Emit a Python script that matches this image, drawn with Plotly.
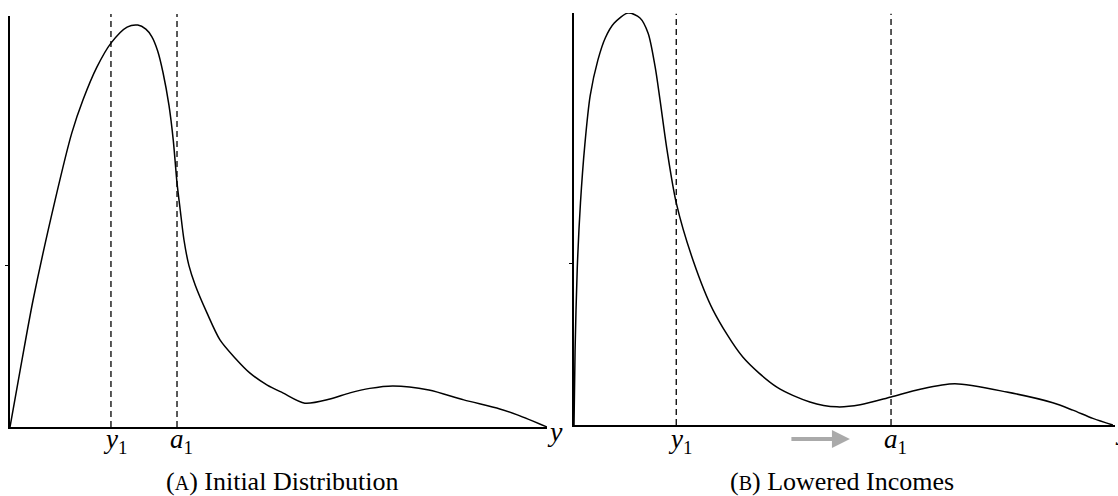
import plotly.graph_objects as go

# ---- data (arbitrary units: income 0-100, density 0-100) ----
a_x = [0, 2.0, 4.3, 8.4, 11.5, 13.6, 16.2, 18.8, 21.8, 23.8, 25.3, 26.4, 27.5, 28.5, 29.6, 30.4,
       31.1, 31.7, 32.4, 33.3, 34.5, 36.7, 39.1, 41.9, 44.7, 47.9, 50.8, 54.9, 59.6, 63.3, 67.0,
       71.3, 78.0, 84.5, 91.2, 94.6, 100]
a_y = [0, 14.6, 30.9, 55.2, 71.5, 79.6, 87.6, 93.4, 97.3, 97.8, 96.8, 95.0, 91.5, 86.2, 78.3,
       69.8, 59.4, 52.8, 45.5, 39.4, 34.5, 27.7, 21.2, 16.8, 13.1, 10.2, 8.3, 5.8, 6.8, 8.3, 9.4,
       10.0, 9.0, 6.6, 4.4, 2.9, 0]

b_x = [0, 0.2, 0.6, 1.2, 2.0, 3.0, 4.4, 5.8, 7.4, 10.0, 12.2, 13.7, 15.0, 15.9, 17.2, 18.9, 22.0,
       25.7, 31.2, 37.5, 43.6, 48.6, 52.9, 58.6, 64.0, 70.4, 80.0, 88.5, 92.2, 95.9, 99.6]
b_y = [0, 18.2, 38.0, 54.0, 68.0, 80.0, 88.5, 94.0, 97.5, 100, 98.8, 95.1, 86.9, 78.9, 66.7,
       53.9, 40.0, 27.9, 16.5, 9.2, 5.6, 4.4, 4.9, 6.8, 8.7, 10.0, 8.0, 5.4, 3.6, 1.6, 0]

a_marks = [18.8, 31.1]          # y1, a1 in panel A
b_marks = [18.9, 58.6]          # y1, a1 in panel B
mark_labels = ["<i>y</i><sub>1</sub>", "<i>a</i><sub>1</sub>"]
captions = ["(<span style='font-size:20px'>A</span>) Initial Distribution",
            "(<span style='font-size:20px'>B</span>) Lowered Incomes"]

W, H = 1118, 496
FONT = "Liberation Serif, 'Times New Roman', Times, serif"

fig = go.Figure()
fig.add_trace(go.Scatter(x=a_x, y=a_y, mode="lines", xaxis="x", yaxis="y",
                         line=dict(color="black", width=1.5, shape="spline", smoothing=0.8),
                         showlegend=False, hoverinfo="skip"))
fig.add_trace(go.Scatter(x=b_x, y=b_y, mode="lines", xaxis="x2", yaxis="y2",
                         line=dict(color="black", width=1.5, shape="spline", smoothing=0.8),
                         showlegend=False, hoverinfo="skip"))

for xv in a_marks:
    fig.add_shape(type="line", xref="x", yref="y domain", x0=xv, x1=xv, y0=0, y1=1.005,
                  line=dict(color="black", width=1.3, dash="6px,4px"))
for xv in b_marks:
    fig.add_shape(type="line", xref="x2", yref="y2 domain", x0=xv, x1=xv, y0=0, y1=0.998,
                  line=dict(color="black", width=1.3, dash="6px,4px"))

axis_common = dict(showgrid=False, zeroline=False, showline=True, linecolor="black",
                   linewidth=1.5, fixedrange=True)

fig.update_layout(
    width=W, height=H,
    margin=dict(l=0, r=0, t=0, b=0),
    paper_bgcolor="white", plot_bgcolor="white",
    font=dict(family=FONT, color="black"),
    xaxis=dict(domain=[10 / W, 547 / W], range=[0, 100], anchor="y",
               showticklabels=False, ticks="", **axis_common),
    yaxis=dict(domain=[(H - 427) / H, (H - 16) / H], range=[0, 100], anchor="x",
               tickvals=[39.2], ticktext=[""], ticks="outside", ticklen=3, tickcolor="black",
               tickwidth=1, **axis_common),
    xaxis2=dict(domain=[574 / W, 1115 / W], range=[0, 100], anchor="y2",
                showticklabels=False, ticks="", **axis_common),
    yaxis2=dict(domain=[(H - 425) / H, (H - 13) / H], range=[0, 100], anchor="x2",
                tickvals=[39.1], ticktext=[""], ticks="outside", ticklen=3, tickcolor="black",
                tickwidth=1, **axis_common),
)

# marker labels y1, a1 under the axes
for xr, marks in (("x", a_marks), ("x2", b_marks)):
    for xv, lab in zip(marks, mark_labels):
        fig.add_annotation(x=xv, y=(H - 441) / H, xref=xr, yref="paper", text=lab,
                           showarrow=False, xanchor="center", yanchor="middle", xshift=4,
                           font=dict(family=FONT, size=27, color="black"))

# axis end labels "y"
fig.add_annotation(x=100, y=0, xref="x", yref="y", text="<i>y</i>", showarrow=False,
                   xanchor="left", yanchor="middle", xshift=-2, yshift=-4,
                   font=dict(family=FONT, size=28, color="black"))
fig.add_annotation(x=100, y=0, xref="x2", yref="y2", text="<i>y</i>", showarrow=False,
                   xanchor="left", yanchor="middle", xshift=-2, yshift=-4,
                   font=dict(family=FONT, size=28, color="black"))

# captions
fig.add_annotation(x=282 / W, y=(H - 481) / H, xref="paper", yref="paper", text=captions[0],
                   showarrow=False, xanchor="center", yanchor="middle",
                   font=dict(family=FONT, size=26, color="black"))
fig.add_annotation(x=842 / W, y=(H - 481) / H, xref="paper", yref="paper", text=captions[1],
                   showarrow=False, xanchor="center", yanchor="middle",
                   font=dict(family=FONT, size=26, color="black"))

# gray arrow
fig.add_annotation(x=51.0, y=(H - 439) / H, xref="x2", yref="paper", ax=-60, ay=0,
                   axref="pixel", ayref="pixel", text="", showarrow=True,
                   arrowhead=2, arrowsize=0.9, arrowwidth=4, arrowcolor="#aaaaaa")

fig.write_html("out.html", config={"displayModeBar": False},
               post_script="document.body.style.margin='0';")
